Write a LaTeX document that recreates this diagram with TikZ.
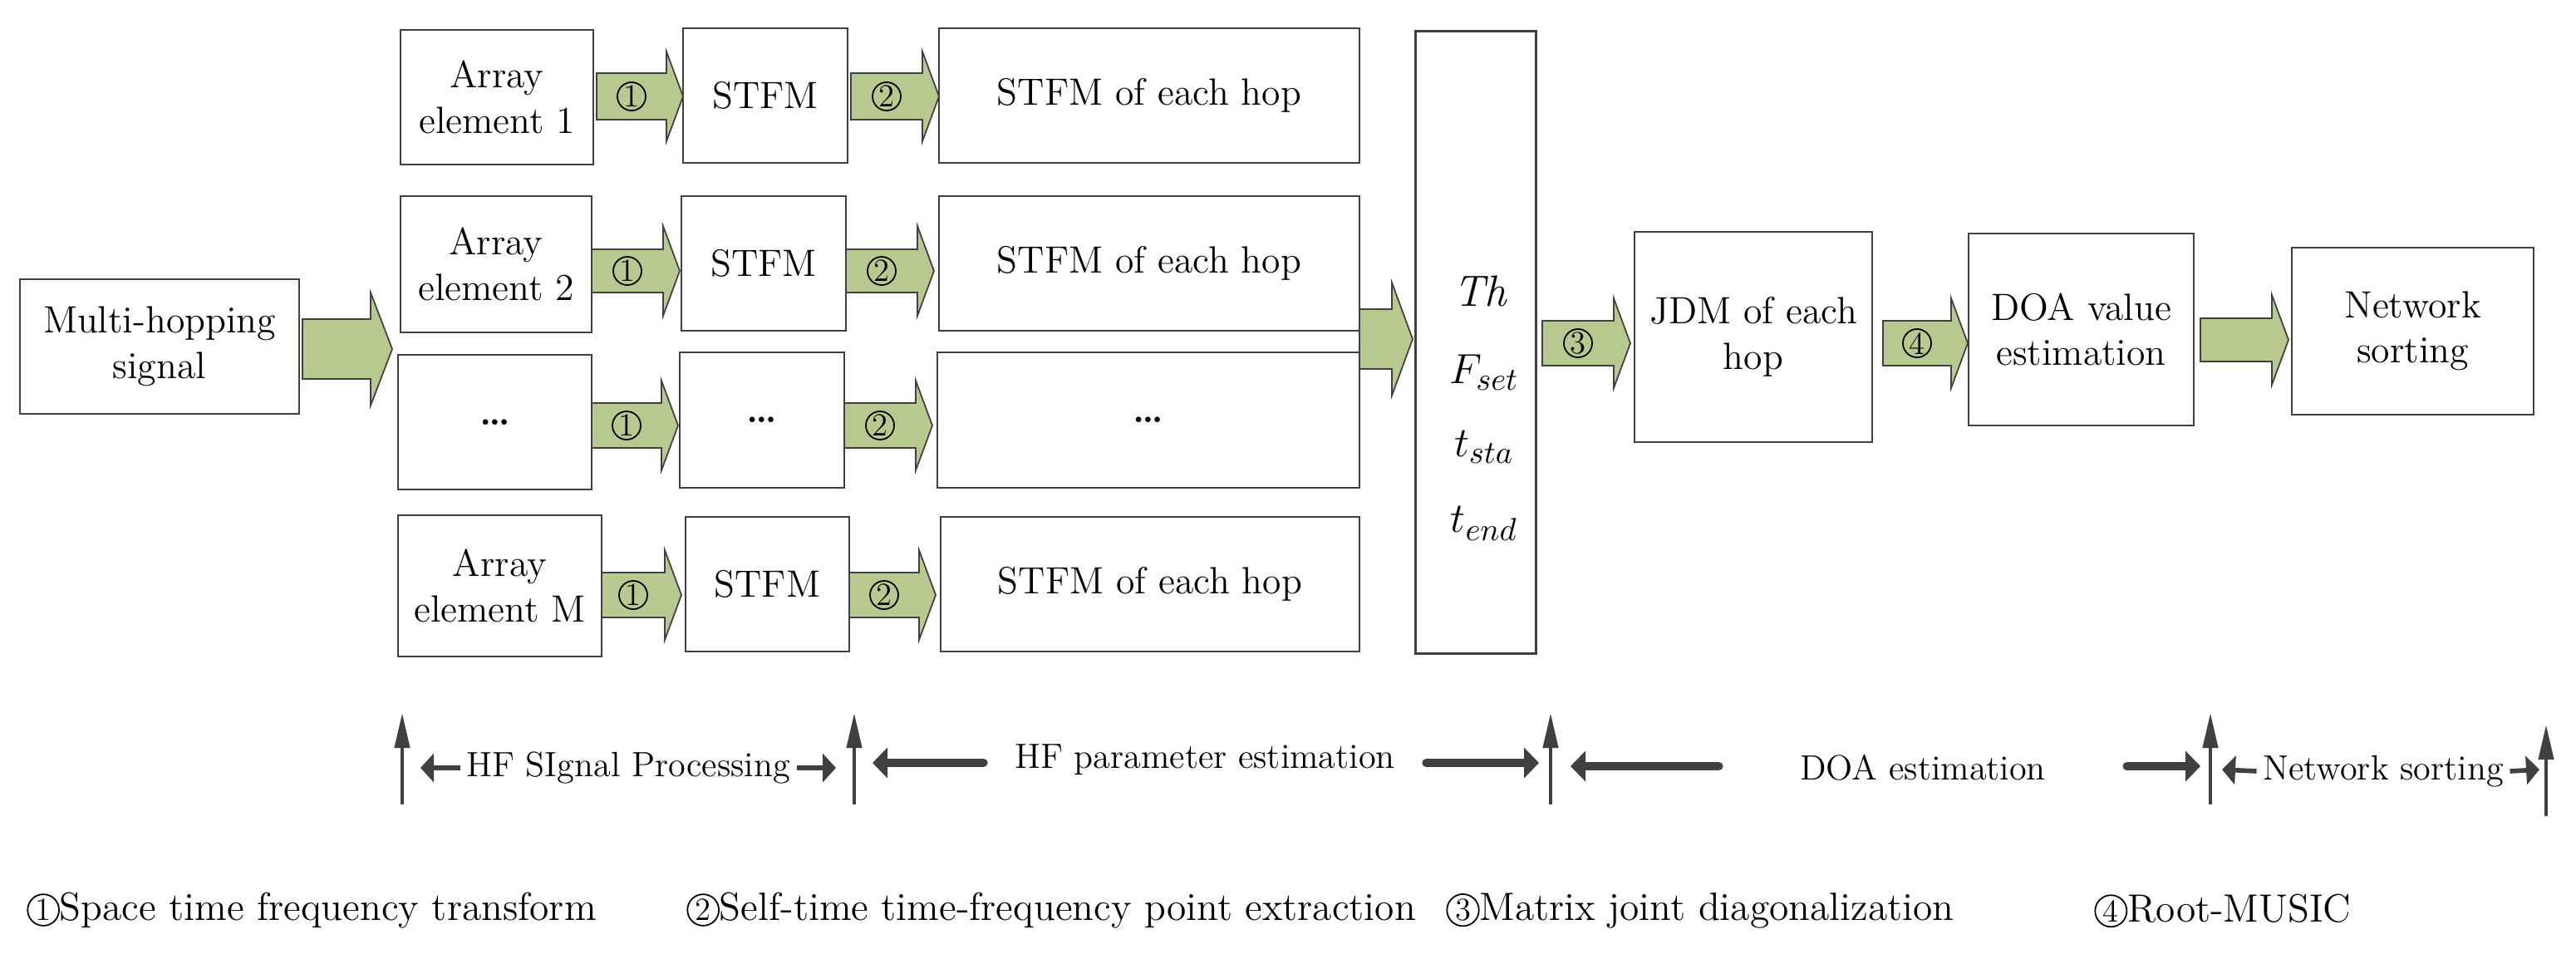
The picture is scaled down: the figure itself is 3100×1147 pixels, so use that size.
\documentclass[tikz,border=0pt]{standalone}
\usetikzlibrary{arrows.meta}
\definecolor{fgreen}{RGB}{183,201,143}
\definecolor{dk}{RGB}{64,64,64}
\begin{document}
\begin{tikzpicture}[x=0.01cm,y=-0.01cm,
  box/.style={draw=dk,line width=0.8pt,inner sep=0pt,outer sep=0pt,align=center,font=\fontsize{13}{15.5}\selectfont},
  fat/.style={fill=fgreen,draw=dk,line width=0.5pt},
  cn/.style={circle,draw=black,line width=0.5pt,inner sep=0pt,minimum size=0.34cm,font=\fontsize{11}{12}\selectfont},
  vup/.style={draw=dk,line width=1.2pt,-{Triangle[width=0.18cm,length=0.42cm]}},
  hthin/.style={draw=dk,line width=1.6pt,-{Triangle[width=0.34cm,length=0.16cm]}},
  hthick/.style={draw=dk,line width=3pt,line cap=round,-{Triangle[width=0.36cm,length=0.18cm]}},
  lbl/.style={font=\fontsize{12}{14}\selectfont,inner sep=2pt},
  leg/.style={anchor=west,font=\fontsize{13.5}{16}\selectfont}]
\useasboundingbox (0,0) rectangle (3100,1147);
\newcommand\bx[6]{\node[box,minimum width={(#4-#2)*0.01cm},minimum height={(#5-#3)*0.01cm}] (#1) at ({(#2+#4)/2},{(#3+#5)/2}) {#6};}
\newcommand\fa[7]{\draw[fat] (#1,{#3-#4}) -- ({#2-#6},{#3-#4}) -- ({#2-#6},{#3-#5}) -- (#2,#3) -- ({#2-#6},{#3+#5}) -- ({#2-#6},{#3+#4}) -- (#1,{#3+#4}) -- cycle;
  \ifx&#7&\else\node[cn] at ({(#1+#2-#6)/2},#3) {#7};\fi}
% source
\bx{src}{24}{336}{360}{498}{Multi-hopping\\signal}
\fa{364}{472}{420}{36}{68}{26}{}
% rows
\bx{a1}{482}{36}{714}{198}{Array\\element 1}
\bx{s1}{822}{34}{1020}{196}{STFM}
\bx{h1}{1130}{34}{1636}{196}{STFM of each hop}
\fa{718}{822}{116}{28}{54}{20}{1}
\fa{1024}{1130}{116}{28}{54}{20}{2}
\bx{a2}{482}{236}{712}{400}{Array\\element 2}
\bx{s2}{820}{236}{1018}{398}{STFM}
\bx{h2}{1130}{236}{1636}{398}{STFM of each hop}
\fa{712}{818}{326}{26}{54}{20}{1}
\fa{1018}{1124}{326}{26}{54}{20}{2}
\bx{a3}{479}{427}{712}{589}{\textbf{\dots}}
\bx{s3}{818}{424}{1016}{587}{\textbf{\dots}}
\bx{h3}{1128}{424}{1636}{587}{\textbf{\dots}}
\fa{712}{816}{512}{27}{54}{20}{1}
\fa{1016}{1122}{512}{27}{54}{20}{2}
\bx{a4}{479}{620}{724}{790}{Array\\element M}
\bx{s4}{825}{622}{1022}{784}{STFM}
\bx{h4}{1132}{622}{1636}{784}{STFM of each hop}
\fa{724}{820}{716}{27}{54}{20}{1}
\fa{1022}{1126}{716}{27}{54}{20}{2}
% param box
\fa{1636}{1700}{408}{36}{68}{25}{}
\node[box,minimum width=1.45cm,minimum height=7.49cm] (p) at (1776,412) {};
\node[font=\fontsize{15}{16}\selectfont] (th) at (1782,350) {\textit{Th}};
\node[font=\fontsize{15}{16}\selectfont] (fs) at (1786,448) {$F_{set}$};
\node[font=\fontsize{15}{16}\selectfont] (ts) at (1786,538) {$t_{sta}$};
\node[font=\fontsize{15}{16}\selectfont] (te) at (1786,630) {$t_{end}$};
\fa{1856}{1962}{413}{27}{54}{20}{3}
\bx{jdm}{1967}{279}{2253}{532}{JDM of each\\hop}
\fa{2266}{2368}{413}{27}{54}{20}{4}
\bx{doa}{2369}{281}{2640}{512}{DOA value\\estimation}
\fa{2648}{2754}{409}{26}{54}{20}{}
\bx{net}{2758}{298}{3049}{499}{Network\\sorting}
% bottom scale
\coordinate (v1b) at (484,968); \coordinate (v1t) at (484,858);
\coordinate (v2b) at (1028,968); \coordinate (v2t) at (1028,858);
\coordinate (v3b) at (1866,968); \coordinate (v3t) at (1866,858);
\coordinate (v4b) at (2660,968); \coordinate (v4t) at (2660,858);
\coordinate (v5b) at (3064,982); \coordinate (v5t) at (3064,872);
\foreach \i in {1,...,5}{\draw[vup] (v\i b) -- (v\i t);}
\node[lbl] (l1) at (756,924) {HF SIgnal Processing};
\node[lbl] (l2) at (1450,914) {HF parameter estimation};
\node[lbl] (l3) at (2314,924) {DOA estimation};
\node[lbl] (l4) at (2868,928) {Network sorting};
\draw[hthin] (l1.west) -- (506,924);
\draw[hthin] (l1.east) -- (1006,924);
\draw[hthick] ([xshift=-0.3cm]l2.west |- 0,918) -- (1050,918);
\draw[hthick] ([xshift=0.3cm]l2.east |- 0,918) -- (1852,918);
\draw[hthick] ([xshift=-0.9cm]l3.west |- 0,922) -- (1890,922);
\draw[hthick] ([xshift=0.9cm]l3.east |- 0,922) -- (2648,922);
\draw[hthin] (l4.west) -- (2674,926);
\draw[hthin] (l4.east) -- (3056,926);
% legend
\newcommand\lc[1]{\tikz[baseline=(c.base)]\node[circle,draw,line width=0.5pt,inner sep=0.6pt,font=\fontsize{11}{12}\selectfont](c){#1};}
\node[leg] (g1) at (20,1096) {\lc{1}Space time frequency transform};
\node[leg] (g2) at (814,1096) {\lc{2}Self-time time-frequency point extraction};
\node[leg] (g3) at (1728,1096) {\lc{3}Matrix joint diagonalization};
\node[leg] (g4) at (2508,1096) {\lc{4}Root-MUSIC};
\end{tikzpicture}
\end{document}
